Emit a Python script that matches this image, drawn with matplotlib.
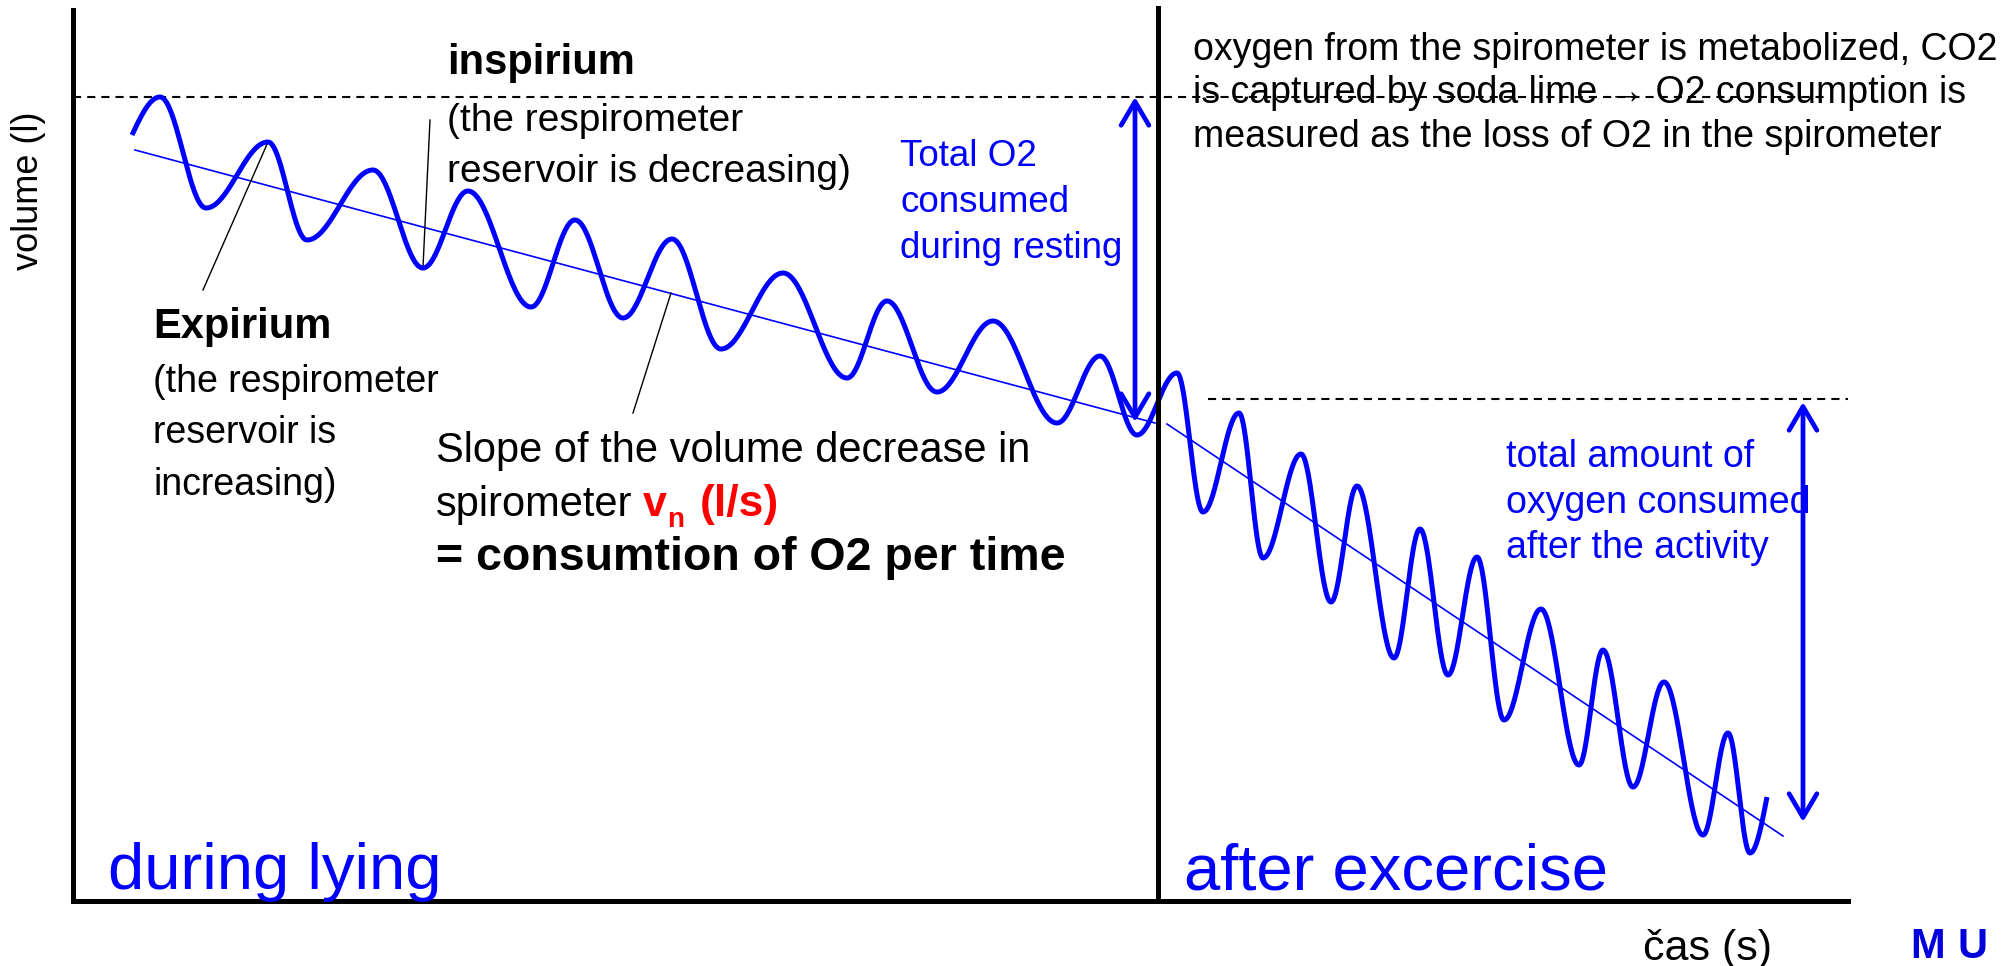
import numpy as np
import matplotlib
matplotlib.use("Agg")
import matplotlib.pyplot as plt
from matplotlib.patches import ArrowStyle

plt.rcParams['font.family'] = ['Liberation Sans', 'DejaVu Sans']

# ---------------- data (time / volume units) ----------------
# extrema of the breathing curve (peaks = inspirium tops, troughs = expirium bottoms)
curve_t = [59, 87, 133, 195, 234, 300, 350, 395, 458, 502, 550, 599, 648, 710, 774,
           814, 864, 920, 984, 1027, 1064, 1104, 1130, 1166, 1190, 1228, 1258, 1284,
           1321, 1347, 1375, 1404, 1431, 1468, 1506, 1530, 1560, 1591, 1630, 1655,
           1677, 1694]
curve_v = [766, 804, 693, 759, 661, 731, 633, 710, 594, 681, 583, 662, 552, 628, 523,
           600, 509, 580, 478, 545, 466, 528, 389, 488, 343, 447, 299, 415, 243, 372,
           226, 344, 181, 292, 136, 251, 114, 219, 66, 168, 48, 104]

# trend (slope) lines: resting and after exercise
trend_rest_t = [62, 1082]
trend_rest_v = [751, 478]
trend_exer_t = [1094, 1710]
trend_exer_v = [477, 65]

# reference levels (dashed)
level_top_v = 804
level_top_t = [0, 1752]
level_mid_v = 502
level_mid_t = [1135, 1775]

# phase boundary
boundary_t = 1085
boundary_v = [0, 893]

# O2 consumed arrows
arrow_rest_t = 1062
arrow_rest_v = [804, 479]
arrow_exer_t = 1730
arrow_exer_v = [499, 79]

# annotation leader lines (start, end)
leader_expir = [(130, 611), (195, 759)]
leader_inspir = [(357, 781), (350, 634)]
leader_slope = [(560, 488), (598, 608)]

BLUE = '#0000FF'
RED = '#FF0000'

W, H = 2001, 966
fig = plt.figure(figsize=(W / 100, H / 100), dpi=100)

# main axes
ax = fig.add_axes([73 / W, (H - 901) / H, (1848 - 73) / W, (901 - 10) / H])
ax.set_xlim(0, 1775)
ax.set_ylim(0, 891)
ax.patch.set_alpha(0)
for s in ['top', 'right']:
    ax.spines[s].set_visible(False)
for s in ['left', 'bottom']:
    ax.spines[s].set_linewidth(3.6)
    ax.spines[s].set_color('black')
ax.set_xticks([])
ax.set_yticks([])


def smooth_curve(ts, vs, n=40):
    out_t, out_v = [], []
    N = len(ts)
    for i in range(N - 1):
        s = np.linspace(0, 1, n, endpoint=False)
        if i == 0:
            f = np.sin(np.pi / 2 * s)
        elif i == N - 2:
            f = 1 - np.cos(np.pi / 2 * s)
        else:
            f = (1 - np.cos(np.pi * s)) / 2
        out_t.append(ts[i] + (ts[i + 1] - ts[i]) * s)
        out_v.append(vs[i] + (vs[i + 1] - vs[i]) * f)
    out_t.append([ts[-1]])
    out_v.append([vs[-1]])
    return np.concatenate(out_t), np.concatenate(out_v)


ct, cv = smooth_curve(curve_t, curve_v)
ax.plot(ct, cv, color=BLUE, lw=3.6, solid_capstyle='butt', zorder=4, clip_on=False)

ax.plot(trend_rest_t, trend_rest_v, color=BLUE, lw=1.2, zorder=3)
ax.plot(trend_exer_t, trend_exer_v, color=BLUE, lw=1.2, zorder=3)

ax.plot(level_top_t, [level_top_v] * 2, color='black', lw=1.5,
        linestyle=(0, (3.9, 2.9)), zorder=2, clip_on=False)
ax.plot(level_mid_t, [level_mid_v] * 2, color='black', lw=1.5,
        linestyle=(0, (3.9, 2.9)), zorder=2, clip_on=False)

ax.plot([boundary_t] * 2, boundary_v, color='black', lw=3.6, zorder=5, clip_on=False)

astyle = ArrowStyle('<->', head_length=0.85, head_width=0.5)
for at, av in [(arrow_rest_t, arrow_rest_v), (arrow_exer_t, arrow_exer_v)]:
    ax.annotate('', xy=(at, av[1]), xytext=(at, av[0]),
                arrowprops=dict(arrowstyle=astyle, color=BLUE, lw=3.4,
                                shrinkA=0, shrinkB=0, mutation_scale=20),
                zorder=6, annotation_clip=False)

for (p0, p1) in [leader_expir, leader_inspir, leader_slope]:
    ax.plot([p0[0], p1[0]], [p0[1], p1[1]], color='black', lw=1.0, zorder=3)

# ---------------- text overlay in figure pixel coordinates ----------------
tx = fig.add_axes([0, 0, 1, 1], zorder=10)
tx.set_xlim(0, W)
tx.set_ylim(H, 0)
tx.axis('off')
tx.patch.set_alpha(0)


def T(x, y, s, size, color='black', weight='normal', **kw):
    tx.text(x, y, s, fontsize=size, color=color, fontweight=weight,
            va='baseline', ha='left', **kw)


T(447, 74, 'inspirium', 30, weight='bold')
T(447, 131, '(the respirometer', 28)
T(447, 182, 'reservoir is decreasing)', 28)

T(153, 338, 'Expirium', 30, weight='bold')
T(153, 392, '(the respirometer', 27)
T(153, 443, 'reservoir is', 27)
T(153, 495, 'increasing)', 27)

T(436, 462, 'Slope of the volume decrease in', 30)
T(436, 516, 'spirometer', 30)
T(643, 516, 'v', 31, color=RED, weight='bold')
T(667, 527, 'n', 20, color=RED, weight='bold')
T(700, 516, '(l/s)', 32, color=RED, weight='bold')
T(436, 570, '= consumtion of O2 per time', 33.5, weight='bold')

T(900, 166, 'Total O2', 26.5, color=BLUE)
T(900, 212, 'consumed', 26.5, color=BLUE)
T(900, 258, 'during resting', 26.5, color=BLUE)

T(1193, 60, 'oxygen from the spirometer is metabolized, CO2', 27)
T(1193, 103, 'is captured by soda lime \u2192 O2 consumption is', 27)
T(1193, 147, 'measured as the loss of O2 in the spirometer', 27)

T(1506, 467, 'total amount of', 27, color=BLUE)
T(1506, 513, 'oxygen consumed', 27, color=BLUE)
T(1506, 558, 'after the activity', 27, color=BLUE)

T(108, 889, 'during lying', 47, color=BLUE)
T(1184, 889, 'after excercise', 47, color=BLUE)

T(1643, 960, 'čas (s)', 31)
tx.text(28, 191, 'volume (l)', fontsize=26, rotation=90, ha='center', va='center')

tx.text(1910, 958, 'M', fontsize=30, color='#0000DD', fontweight='bold',
        family=['Liberation Sans Narrow', 'Liberation Sans'], va='baseline')
tx.text(1958, 958, 'U', fontsize=30, color='#0000DD', fontweight='bold',
        family=['Liberation Sans Narrow', 'Liberation Sans'], va='baseline')

fig.savefig('out.png', dpi=100)
